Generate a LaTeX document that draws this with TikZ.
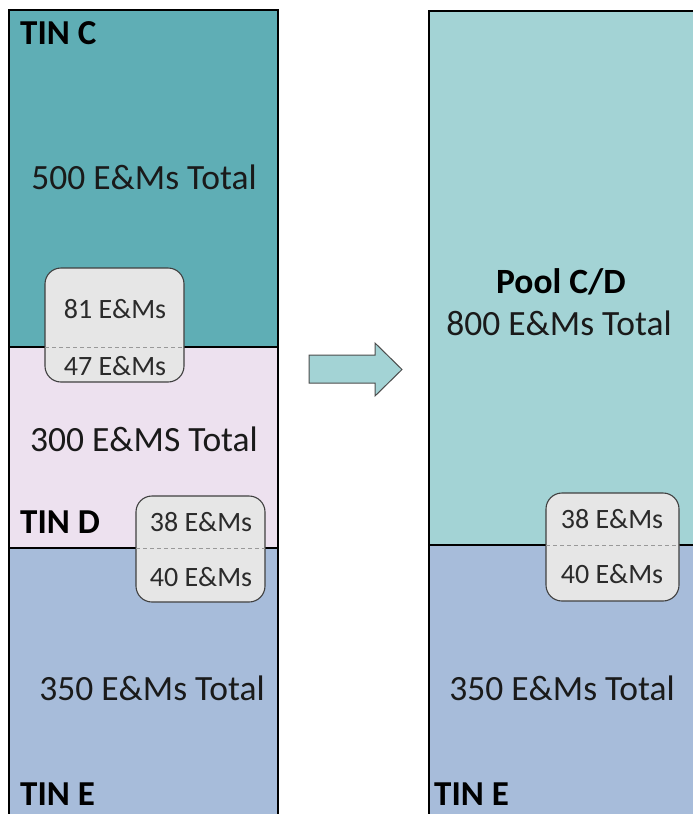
\documentclass[tikz,border=0pt]{standalone}
\usepackage{fontspec}
\setmainfont{Carlito}
\definecolor{tinc}{HTML}{5FAEB5}
\definecolor{tind}{HTML}{EDE1EF}
\definecolor{tine}{HTML}{A7BCDA}
\definecolor{pool}{HTML}{A3D3D5}
\definecolor{chip}{HTML}{E6E6E6}
\definecolor{ink}{HTML}{1A1A1A}
\definecolor{chipink}{HTML}{2B2B2B}
\tikzset{
  bigtxt/.style={font=\fontsize{35.5}{38}\selectfont, text=ink, inner sep=0pt},
  tintxt/.style={font=\fontsize{35}{38}\selectfont\bfseries, text=black, inner sep=0pt, anchor=west},
  chiptxt/.style={font=\fontsize{28}{30}\selectfont, text=chipink, inner sep=0pt},
  chipbox/.style={fill=chip, draw=black!75, line width=1.1pt, rounded corners=16pt},
  split/.style={draw=black!40, dash pattern=on 4pt off 3pt, line width=0.9pt},
  frame/.style={draw=black, line width=2pt},
}
\begin{document}
\begin{tikzpicture}[x=1pt, y=-1pt]
\useasboundingbox (0,0) rectangle (693,814);
\begin{scope}
\clip (0,0) rectangle (693,814);
% left column: three stacked TIN blocks
\fill[tinc] (9,10) rectangle (278,347);
\fill[tind] (9,347) rectangle (278,548);
\fill[tine] (9,548) rectangle (278,830);
\draw[frame] (9,830) -- (9,10) -- (278,10) -- (278,830);
\draw[frame] (9,347) -- (278,347);
\draw[frame] (9,548) -- (278,548);
% right column: merged pool above TIN E
\fill[pool] (429,11) rectangle (710,545);
\fill[tine] (429,545) rectangle (710,830);
\draw[frame] (429,830) -- (429,11) -- (710,11);
\draw[frame] (429,545) -- (710,545);
\end{scope}

% transition arrow
\fill[pool, draw=black!70, line width=1pt]
  (309,355) -- (375,355) -- (375,343) -- (402,369.5) -- (375,396) -- (375,383) -- (309,383) -- cycle;

% left column texts
\node[tintxt] (tinC) at (20,33) {TIN C};
\node[bigtxt] (totC) at (144,177) {500 E\&Ms Total};
\node[bigtxt] (totD) at (144,439) {300 E\&MS Total};
\node[tintxt] (tinD) at (20,522) {TIN D};
\node[bigtxt] (totE) at (152,688) {350 E\&Ms Total};
\node[tintxt] (tinE) at (20,794) {TIN E};

% overlap chips on the left
\draw[chipbox] (45,268) rectangle (184,382);
\draw[split] (45,347) -- (184,347);
\node[chiptxt] (cdTop) at (115,309) {81 E\&Ms};
\node[chiptxt] (cdBot) at (115,366) {47 E\&Ms};

\draw[chipbox] (136,496) rectangle (265,602);
\draw[split] (136,548) -- (265,548);
\node[chiptxt] (deTop) at (201,522) {38 E\&Ms};
\node[chiptxt] (deBot) at (201,577) {40 E\&Ms};

% right column texts
\node[font=\fontsize{35.5}{38}\selectfont\bfseries, text=black, inner sep=0pt] (poolT) at (561,282) {Pool C/D};
\node[bigtxt] (poolN) at (559,323) {800 E\&Ms Total};
\node[bigtxt] (totE2) at (562,688) {350 E\&Ms Total};
\node[tintxt] (tinE2) at (434,794) {TIN E};

\draw[chipbox] (546,493) rectangle (679,601);
\draw[split] (546,545) -- (679,545);
\node[chiptxt] (peTop) at (612,519) {38 E\&Ms};
\node[chiptxt] (peBot) at (612,574) {40 E\&Ms};
\end{tikzpicture}
\end{document}
